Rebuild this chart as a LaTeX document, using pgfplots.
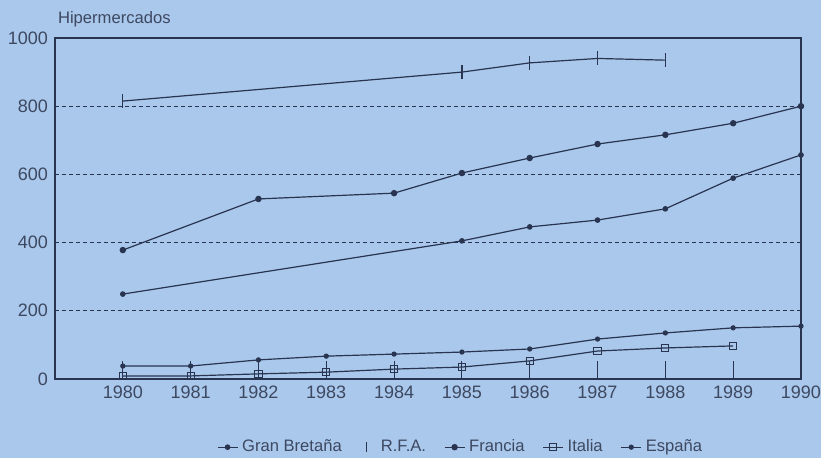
\documentclass[border=0pt]{standalone}
\usepackage{pgfplots}
\pgfplotsset{compat=1.18}
\usepackage{fontspec}
\setmainfont{Liberation Sans}
\definecolor{bgblue}{RGB}{170,200,236}
\definecolor{ink}{RGB}{40,52,80}
\begin{document}
\begin{tikzpicture}
\useasboundingbox (-27.5pt,-39.5pt) rectangle (383pt,189.5pt);
\fill[bgblue] (-27.5pt,-39.5pt) rectangle (383pt,189.5pt);
\begin{axis}[
  at={(0,0)}, anchor=south west,
  scale only axis, width=373pt, height=170.5pt,
  xmin=1979, xmax=1990, ymin=0, ymax=1000,
  xtick={1980,...,1990}, ytick={0,200,...,1000},
  /pgf/number format/assume math mode=true,
  xticklabel style={/pgf/number format/1000 sep=},
  yticklabel style={/pgf/number format/1000 sep=},
  tick label style={font=\fontsize{9}{10}\selectfont, text=ink!90},
  tick align=inside, major tick length=9pt,
  xtick pos=bottom, ytick pos=left,
  xtick style={ink, line width=0.5pt},
  ytick style={draw=none},
  axis line style={ink, line width=0.8pt},
  ymajorgrids, grid style={ink, line width=0.4pt, dash pattern=on 2pt off 1.5pt},
  legend style={at={(0.545,-0.2)}, anchor=center, draw=none, fill=none,
    font=\fontsize{8.3}{9}\selectfont, text=ink!90,
    /tikz/every even column/.append style={column sep=7pt}},
  legend image code/.code={\draw[#1] (0cm,0cm) -- (0.35cm,0cm) plot coordinates {(0.175cm,0cm)};},
  legend columns=5,
  legend cell align=left,
  clip=false,
]
% Gran Bretana
\addplot[ink, line width=0.6pt, mark=*, mark size=1.1pt, mark options={fill=ink}] coordinates {
 (1980,249) (1985,405) (1986,446) (1987,466) (1988,499) (1989,589) (1990,657)};
\addlegendentry{Gran Bretaña}
% R.F.A.
\addplot[ink, line width=0.6pt, mark=|, mark size=3.5pt, legend image code/.code={\path[draw=none] (0cm,0cm) -- (0.3cm,0cm); \draw[ink, line width=0.6pt] (0.12cm,-2.5pt) -- (0.12cm,2.5pt);}] coordinates {
 (1980,815) (1985,900) (1986,927) (1987,940) (1988,935)};
\addlegendentry{R.F.A.}
% Francia
\addplot[ink, line width=0.6pt, mark=*, mark size=1.3pt, mark options={fill=ink}] coordinates {
 (1980,378) (1982,528) (1984,545) (1985,604) (1986,648) (1987,689) (1988,716) (1989,750) (1990,800)};
\addlegendentry{Francia}
% Italia
\addplot[ink, line width=0.6pt, mark=square, mark size=1.8pt, mark options={solid, line width=0.5pt}] coordinates {
 (1980,9) (1981,9) (1982,15) (1983,20) (1984,29) (1985,35) (1986,53) (1987,82) (1988,91) (1989,97)};
\addlegendentry{Italia}
% Espana
\addplot[ink, line width=0.6pt, mark=*, mark size=1.0pt, mark options={fill=ink}] coordinates {
 (1980,38) (1981,38) (1982,56) (1983,67) (1984,73) (1985,79) (1986,88) (1987,117) (1988,135) (1989,150) (1990,155)};
\addlegendentry{España}
\end{axis}
\node[anchor=west, font=\fontsize{8.3}{9}\selectfont, text=ink!90] at (-2pt,180pt) {Hipermercados};
\end{tikzpicture}
\end{document}
